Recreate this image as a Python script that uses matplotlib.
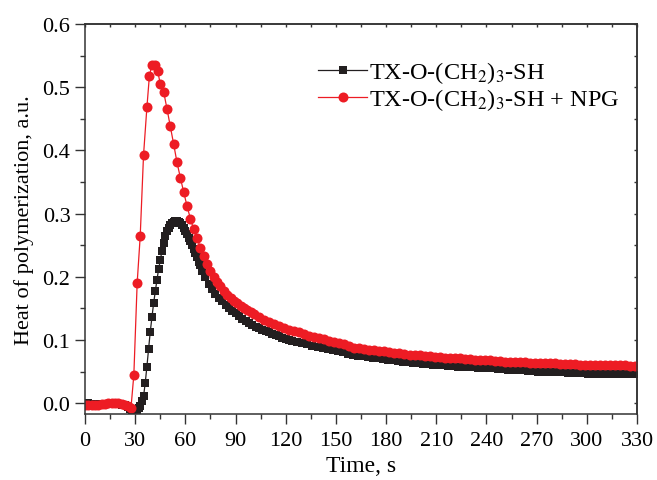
import numpy as np
import matplotlib
matplotlib.use("Agg")
import matplotlib.pyplot as plt
from matplotlib.ticker import MultipleLocator, FormatStrFormatter

# Font setup - serif text, mathtext subscripts in a matching serif
plt.rcParams['font.family'] = ['Liberation Serif', 'DejaVu Serif']
plt.rcParams['mathtext.fontset'] = 'stix'

# Black series: TX-O-(CH2)3-SH (sampled about every second, coarser in the tail)
black_t_base = [0, 2, 4, 6, 8, 10, 12, 14, 16, 18, 20, 22, 24, 26, 27, 28, 29, 30, 31, 32, 33, 34]
black_y_base = [0.001, 0.000, -0.001, -0.001, -0.001, -0.001, -0.001, -0.001, -0.001, -0.001, -0.001, -0.002,
                -0.003, -0.006, -0.009, -0.010, -0.010, -0.010, -0.010, -0.008, -0.004, 0.003]
black_t_peak = [35, 36, 37, 38, 39, 40, 41, 42, 43, 44, 45, 46, 47, 48, 49, 50, 51, 52, 53, 54, 55, 56, 57, 58,
                59, 60, 61, 62, 63, 64, 65, 66, 67, 68, 69, 70]
black_y_peak = [0.011, 0.032, 0.058, 0.086, 0.113, 0.136, 0.158, 0.177, 0.195, 0.212, 0.226, 0.241, 0.254, 0.264,
                0.272, 0.278, 0.282, 0.285, 0.287, 0.288, 0.288, 0.287, 0.285, 0.282, 0.278, 0.273, 0.268, 0.262,
                0.256, 0.250, 0.244, 0.237, 0.231, 0.224, 0.218, 0.210]
black_t_decay = [72, 74, 76, 78, 80, 82, 84, 86, 88, 90, 92, 94, 96, 98, 100, 102, 104, 106, 108, 110, 112, 114,
                 116, 118, 120, 122]
black_y_decay = [0.199, 0.189, 0.180, 0.173, 0.167, 0.161, 0.156, 0.151, 0.146, 0.142, 0.138, 0.134, 0.130, 0.127,
                 0.124, 0.121, 0.119, 0.116, 0.114, 0.112, 0.110, 0.108, 0.106, 0.104, 0.102, 0.100]
black_t_tail = list(range(124, 331, 3))
black_y_tail = [0.099, 0.097, 0.095, 0.093, 0.091, 0.089, 0.087, 0.086, 0.084, 0.083, 0.081, 0.078, 0.076, 0.075,
                0.074, 0.073, 0.072, 0.071, 0.070, 0.069, 0.068, 0.067, 0.066, 0.065, 0.064, 0.063, 0.062, 0.062,
                0.061, 0.061, 0.060, 0.059, 0.059, 0.058, 0.058, 0.057, 0.057, 0.056, 0.056, 0.055, 0.055, 0.054,
                0.054, 0.053, 0.053, 0.052, 0.052, 0.051, 0.051, 0.050, 0.050, 0.050, 0.049, 0.049, 0.049, 0.048,
                0.048, 0.048, 0.048, 0.047, 0.047, 0.047, 0.047, 0.047, 0.046, 0.046, 0.046, 0.046, 0.046]

# Red series: TX-O-(CH2)3-SH + NPG (sampled about every two seconds)
red_t_base = [0, 2, 4, 6, 8, 10, 12, 14, 16, 18, 20, 22, 24, 26, 27.5]
red_y_base = [-0.003, -0.003, -0.003, -0.002, -0.002, -0.001, -0.001, 0.000, 0.000, 0.000, 0.000, -0.001,
              -0.002, -0.004, -0.007]
red_t_peak = [29.2, 31.2, 33, 35, 37, 38.5, 40, 42, 43.5, 45, 47, 49, 51, 53, 55, 57, 59, 61, 63, 65, 67, 69,
              71, 73, 75, 77, 79, 81, 83, 85, 87, 89, 91, 93, 95, 97, 99]
red_y_peak = [0.045, 0.191, 0.264, 0.393, 0.468, 0.518, 0.535, 0.535, 0.525, 0.505, 0.493, 0.466, 0.438, 0.410,
              0.381, 0.357, 0.334, 0.312, 0.292, 0.275, 0.261, 0.246, 0.233, 0.221, 0.209, 0.200, 0.192, 0.185,
              0.178, 0.172, 0.167, 0.162, 0.158, 0.154, 0.150, 0.147, 0.144]
red_t_tail = list(range(101, 331, 3))
red_y_tail = [0.141, 0.136, 0.132, 0.128, 0.125, 0.122, 0.119, 0.116, 0.114, 0.112, 0.110, 0.107, 0.105, 0.103,
              0.101, 0.099, 0.097, 0.096, 0.094, 0.090, 0.088, 0.087, 0.086, 0.085, 0.084, 0.083, 0.082, 0.081,
              0.080, 0.079, 0.078, 0.077, 0.077, 0.076, 0.075, 0.074, 0.073, 0.073, 0.072, 0.072, 0.071, 0.071,
              0.070, 0.070, 0.069, 0.069, 0.068, 0.068, 0.067, 0.067, 0.066, 0.066, 0.065, 0.065, 0.065, 0.064,
              0.064, 0.064, 0.063, 0.063, 0.063, 0.062, 0.062, 0.062, 0.062, 0.061, 0.061, 0.061, 0.061, 0.060,
              0.060, 0.060, 0.060, 0.060, 0.060, 0.059, 0.059]

black_t = black_t_base + black_t_peak + black_t_decay + black_t_tail
black_y = black_y_base + black_y_peak + black_y_decay + black_y_tail
red_t = red_t_base + red_t_peak + red_t_tail
red_y = red_y_base + red_y_peak + red_y_tail

labels = ['TX-O-(CH$_2$)$_3$-SH', 'TX-O-(CH$_2$)$_3$-SH + NPG']
black_color = '#231F20'
red_color = '#ED1C24'

fig = plt.figure(figsize=(6.57, 4.81), dpi=100)
ax = fig.add_subplot(111)
fig.subplots_adjust(left=85 / 657, right=637 / 657, top=1 - 25 / 481, bottom=1 - 415 / 481)

ax.plot(black_t, black_y, color=black_color, linewidth=0.9, marker='s', markersize=5.5,
        markeredgewidth=0, label=labels[0])
ax.plot(red_t, red_y, color=red_color, linewidth=0.9, marker='o', markersize=7.2,
        markeredgewidth=0, label=labels[1])

ax.set_xlim(0, 330)
ax.set_ylim(-0.017, 0.6)
ax.xaxis.set_major_locator(MultipleLocator(30))
ax.xaxis.set_minor_locator(MultipleLocator(15))
ax.yaxis.set_major_locator(MultipleLocator(0.1))
ax.yaxis.set_minor_locator(MultipleLocator(0.05))
ax.yaxis.set_major_formatter(FormatStrFormatter('%.1f'))

# Origin style ticks: outward on bottom/left, short inward on top/right
ax.tick_params(which='both', direction='out', top=False, right=False, labelsize=16, width=1, color='#333333')
ax.tick_params(which='major', length=7)
ax.tick_params(which='minor', length=3.5)
ax.tick_params(axis='x', pad=5)
secx = ax.secondary_xaxis('top')
secx.xaxis.set_major_locator(MultipleLocator(15))
secx.tick_params(direction='in', length=2.5, width=1, labeltop=False, color='#333333')
secy = ax.secondary_yaxis('right')
secy.yaxis.set_major_locator(MultipleLocator(0.05))
secy.tick_params(direction='in', length=2.5, width=1, labelright=False, color='#333333')
for spine in list(ax.spines.values()) + [secx.spines['top'], secy.spines['right']]:
    spine.set_linewidth(1.1)
    spine.set_color('#333333')

ax.set_xlabel('Time, s', fontsize=17, labelpad=4)
ax.set_ylabel('Heat of polymerization, a.u.', fontsize=16, labelpad=6)

ax.legend(loc='upper left', bbox_to_anchor=(0.405, 0.935), frameon=False, fontsize=17.5,
          handlelength=2.0, handletextpad=0.1, labelspacing=0.05, borderaxespad=0)

fig.savefig('out.png', dpi=100)
